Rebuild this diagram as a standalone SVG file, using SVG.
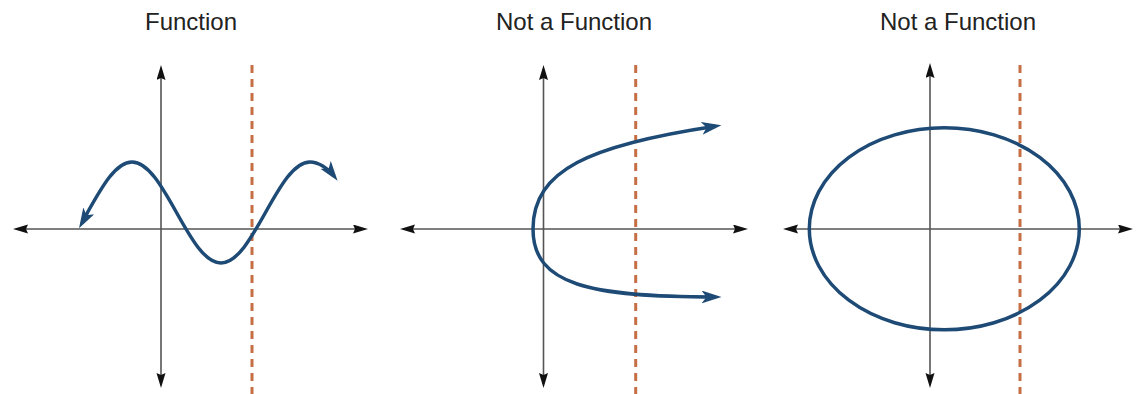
<svg xmlns="http://www.w3.org/2000/svg" width="1141" height="394" viewBox="0 0 1141 394">
<style>
.title{font-family:"Liberation Sans",Arial,sans-serif;font-size:24px;fill:#222;text-anchor:middle}
.axis{stroke:#555;stroke-width:1.6;fill:none;marker-start:url(#ax);marker-end:url(#ax)}
.dash{stroke:#c66f45;stroke-width:3;stroke-dasharray:8 6;fill:none}
.curve{stroke:#1e4a76;stroke-width:3.5;fill:none;stroke-linecap:butt}
.arr{marker-start:url(#nv);marker-end:url(#nv)}
</style>
<defs>
<marker id="ax" markerUnits="userSpaceOnUse" markerWidth="16" markerHeight="10" refX="11" refY="4.5" orient="auto-start-reverse" viewBox="0 0 16 10">
<path d="M0,0 L15,4.5 L0,9 L2,4.5 z" fill="#111"/>
</marker>
<marker id="nv" markerUnits="userSpaceOnUse" markerWidth="22" markerHeight="14" refX="14" refY="6.5" orient="auto-start-reverse" viewBox="0 0 22 14">
<path d="M0,0 L20,6.5 L0,13 L5,6.5 z" fill="#1e4a76"/>
</marker>
</defs>
<rect width="1141" height="394" fill="#fff"/>

<g id="panel1">
<text class="title" x="191" y="30">Function</text>
<g id="axes1">
<line class="axis" x1="17" y1="229" x2="364" y2="229"/>
<line class="axis" x1="161" y1="69" x2="161" y2="384"/>
</g>
<line id="vline1" class="dash" x1="252" y1="65" x2="252" y2="394"/>
<path id="curve1" class="curve arr" d="M82,223 C84,219.5 85.8,216 87.5,212.5 C102,186.6 115.9,162 132,162 C148.1,162 162,186.6 176.5,212.5 C191,238.4 204.9,263 221,263 C237.1,263 251,238.4 265.5,212.5 C280,186.6 293.9,162 310,162 C318,162 328,168 334,176"/>
</g>

<g id="panel2">
<text class="title" x="574" y="30">Not a Function</text>
<g id="axes2">
<line class="axis" x1="404" y1="229" x2="744" y2="229"/>
<line class="axis" x1="543.5" y1="69" x2="543.5" y2="384"/>
</g>
<line id="vline2" class="dash" x1="635.7" y1="65" x2="635.7" y2="394"/>
<path id="curve2" class="curve arr" d="M715.5,126.2 C590,145 533,170 533,229 C533,285 590,297 715.5,297"/>
</g>

<g id="panel3">
<text class="title" x="958" y="30">Not a Function</text>
<g id="axes3">
<line class="axis" x1="787" y1="229" x2="1129" y2="229"/>
<line class="axis" x1="930" y1="67" x2="930" y2="384"/>
</g>
<line id="vline3" class="dash" x1="1020" y1="65" x2="1020" y2="394"/>
<ellipse id="curve3" class="curve" cx="944.3" cy="228.8" rx="135" ry="101"/>
</g>
</svg>
